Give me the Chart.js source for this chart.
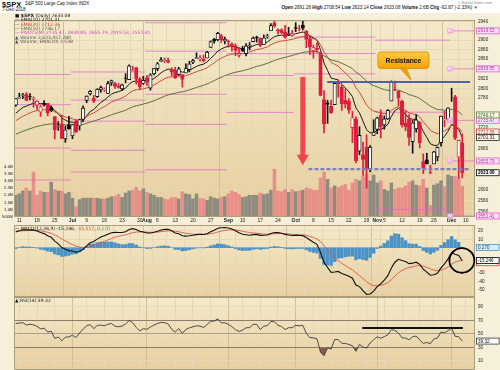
<!DOCTYPE html>
<html>
<head>
<meta charset="utf-8">
<script src="https://cdn.jsdelivr.net/npm/chart.js"></script>
<style>
  body { margin: 0; width: 500px; height: 370px; overflow: hidden; position: relative; background: #fff; font-family: "Liberation Sans", Arial, sans-serif; }
  #panel { position: absolute; left: 0; top: 13px; width: 500px; height: 357px; background: #f6efda; }
  canvas { position: absolute; left: 0; }
  .txt { position: absolute; white-space: nowrap; color: #111; line-height: 1; }
  .leg { position: absolute; left: 15px; font-size: 4.5px; line-height: 4.35px; white-space: nowrap; font-family: "DejaVu Sans", sans-serif; color: #111; }
  .leg b { font-weight: bold; }
</style>
</head>
<body>
<div id="panel"></div>
<div class="txt" style="left:2px;top:0.5px;font-size:7.5px;font-weight:bold;">$SPX</div>
<div class="txt" style="left:25px;top:2px;font-size:4.5px;">S&amp;P 500 Large Cap Index INDX</div>
<div class="txt" style="left:2px;top:8px;font-size:4.5px;">7-Dec-2018</div>
<div class="txt" style="right:8px;top:0.5px;font-size:4px;color:#888;">© StockCharts.com</div>
<div class="txt" style="right:22px;top:6px;font-size:4.6px;"><b>Open</b> 2691.26 <b>High</b> 2708.54 <b>Low</b> 2623.14 <b>Close</b> 2633.08 <b>Volume</b> 2.6B <b>Chg</b> -62.87 (-2.33%) <span style="color:#d22">▼</span></div>

<canvas id="main" width="500" height="212" style="top:13px"></canvas>
<canvas id="macd" width="500" height="72" style="top:225px"></canvas>
<canvas id="rsi" width="500" height="73" style="top:297px"></canvas>

<div class="leg" id="legMain" style="top:14px"></div>
<div class="leg" id="legMacd" style="top:226.5px"></div>
<div class="leg" id="legRsi" style="top:299px"></div>

<script>
// daily data, 8-Jun-2018 .. 7-Dec-2018
const priorClose = 2770.37;
const open = [2765.84,2780.18,2785.60,2787.94,2783.21,2777.78,2765.79,2752.01,2769.73,2769.28,2760.79,2742.94,2722.12,2728.45,2698.69,2727.13,
  2704.95,2733.27,2724.19,2737.68,2775.62,2788.56,2779.82,2783.14,2796.93,2797.36,2789.34,2811.35,2809.37,2804.55,2799.17,2820.68,2817.73,2835.49,2842.35,2819.00,2809.73,
  2821.17,2800.48,2829.62,2840.29,2855.92,2856.79,2857.19,2838.90,2835.46,2827.88,2827.95,2831.44,2838.32,2853.93,2861.51,2860.99,2860.29,2862.35,2884.69,2901.45,2900.62,2908.94,2898.37,
  2896.96,2891.59,2888.64,2868.26,2881.39,2871.57,2888.29,2896.85,2906.38,2903.83,2890.74,2906.60,2919.73,2936.76,2921.83,2921.75,2916.98,2911.65,2910.03,
  2926.29,2923.80,2931.69,2919.35,2902.54,2877.53,2882.51,2873.90,2776.87,2770.54,2763.83,2767.05,2811.67,2802.00,2775.66,2773.94,2721.03,2737.87,2674.88,2667.86,2682.65,2640.68,2705.60,
  2717.58,2745.45,2726.37,2738.40,2774.13,2806.38,2794.10,2773.93,2730.05,2737.90,2693.52,2718.54,2730.74,2654.60,2657.74,2633.36,2649.97,2663.75,2691.45,2736.97,2737.76,
  2790.50,2782.43,2663.51,2691.26];
const high = [2779.39,2790.21,2789.80,2791.47,2789.06,2782.81,2774.99,2765.05,2774.86,2769.28,2764.17,2742.94,2732.91,2746.09,2724.34,2743.26,
  2727.26,2736.58,2737.83,2764.41,2784.65,2795.58,2785.91,2799.22,2804.53,2801.19,2814.19,2816.76,2812.05,2809.70,2808.61,2829.99,2848.03,2845.57,2843.17,2821.74,2824.46,
  2825.83,2829.91,2840.38,2853.29,2863.43,2862.44,2862.48,2842.20,2843.40,2843.11,2827.95,2850.49,2855.63,2859.76,2873.23,2867.54,2868.78,2876.16,2898.25,2903.77,2916.50,2912.46,2906.32,
  2900.18,2894.21,2892.05,2883.81,2886.93,2892.52,2894.65,2906.76,2908.30,2904.65,2911.17,2912.36,2934.80,2940.91,2923.79,2923.95,2931.15,2927.22,2920.53,
  2937.06,2931.42,2939.86,2919.78,2909.64,2889.45,2894.83,2874.02,2795.14,2775.77,2775.99,2813.46,2816.94,2806.04,2797.77,2778.94,2753.59,2742.59,2722.70,2692.38,2706.85,2685.43,2736.69,
  2741.67,2756.55,2744.27,2756.82,2815.15,2814.75,2794.10,2775.99,2754.60,2746.80,2735.38,2746.75,2733.16,2669.44,2670.73,2647.55,2674.35,2682.53,2744.00,2753.75,2760.88,
  2800.18,2785.93,2696.15,2708.54];
const low = [2763.59,2780.17,2778.78,2774.65,2776.52,2761.73,2757.12,2743.19,2763.91,2744.39,2752.68,2698.67,2715.60,2699.38,2691.99,2718.03,
  2698.95,2711.16,2716.02,2733.52,2770.73,2786.24,2770.77,2781.53,2791.69,2793.39,2789.24,2805.89,2799.77,2800.01,2795.14,2811.12,2817.73,2835.26,2808.34,2798.11,2808.06,
  2805.85,2796.34,2827.37,2835.98,2855.92,2853.09,2851.98,2825.81,2819.88,2826.58,2802.49,2831.44,2833.73,2850.62,2861.32,2856.05,2854.03,2862.35,2884.69,2893.50,2898.40,2895.22,2891.73,
  2885.13,2876.92,2867.29,2864.12,2875.94,2866.78,2879.20,2896.39,2895.77,2886.16,2890.43,2903.82,2919.73,2927.11,2912.63,2913.70,2903.28,2909.27,2907.50,
  2917.91,2919.37,2921.36,2883.92,2869.29,2862.08,2874.27,2784.86,2710.51,2729.44,2749.03,2766.91,2781.81,2755.18,2760.27,2749.22,2691.43,2651.89,2667.84,2628.16,2603.54,2635.34,2705.60,
  2708.85,2700.44,2717.94,2737.08,2774.13,2794.99,2764.24,2722.00,2714.98,2685.75,2670.75,2712.16,2681.09,2631.52,2649.82,2631.09,2649.97,2655.89,2684.38,2722.94,2732.76,
  2773.38,2697.18,2621.53,2623.14];
const close = [2779.03,2782.00,2786.85,2775.63,2782.49,2779.66,2773.75,2762.59,2767.32,2749.76,2754.88,2717.07,2723.06,2699.63,2716.31,2718.37,
  2726.71,2713.22,2736.61,2759.82,2784.17,2793.84,2774.02,2798.29,2801.31,2798.43,2809.55,2815.62,2804.49,2801.83,2806.98,2820.40,2846.07,2837.44,2818.82,2802.60,2816.29,
  2813.36,2827.22,2840.35,2850.40,2858.45,2857.70,2853.58,2833.28,2821.93,2839.96,2818.37,2840.69,2850.13,2857.05,2862.96,2861.82,2856.98,2874.69,2896.74,2897.52,2914.04,2901.13,2901.52,
  2896.72,2888.60,2878.05,2871.68,2877.13,2887.89,2888.92,2904.18,2904.98,2888.80,2904.31,2907.95,2930.75,2929.67,2919.37,2915.56,2905.97,2914.00,2913.98,
  2924.59,2923.43,2925.51,2901.61,2885.57,2884.43,2880.34,2785.68,2728.37,2767.13,2750.79,2809.92,2809.21,2768.78,2767.78,2755.88,2740.69,2656.10,2705.57,2658.69,2641.25,2682.63,2711.74,
  2740.37,2723.06,2738.31,2755.45,2813.89,2806.83,2781.01,2726.22,2722.18,2701.58,2730.20,2736.27,2690.73,2641.89,2649.93,2632.56,2673.45,2682.17,2743.79,2737.80,2760.17,
  2790.37,2700.06,2695.95,2633.08];
// volume in billions
const volume = [2.0,2.1,2.3,2.5,2.3,3.6,2.0,2.3,2.2,2.2,2.9,2.4,2.3,2.3,2.1,2.2,
  1.8,1.2,1.7,1.8,1.8,1.8,1.8,1.8,1.75,1.75,1.8,1.9,1.95,2.05,1.85,2.15,2.3,2.35,2.55,2.3,2.45,
  2.2,2.1,2.0,1.85,1.85,1.75,1.7,1.85,1.85,1.75,2.25,2.1,2.05,1.75,2.1,1.8,1.75,1.65,1.9,1.8,1.75,1.85,1.9,
  2.1,2.3,2.2,2.05,1.85,1.9,2.0,2.0,2.0,2.15,2.05,2.1,2.35,3.8,2.3,2.25,2.4,2.2,2.4,
  2.25,2.3,2.35,2.5,2.45,2.35,2.35,3.2,3.6,3.1,2.5,2.65,2.55,2.65,2.75,2.35,2.85,3.1,3.0,3.3,3.45,3.0,3.4,
  2.85,3.0,2.4,2.3,2.85,2.4,2.5,2.5,2.65,2.9,3.0,2.7,2.65,3.1,2.5,1.3,2.7,2.8,3.0,2.6,3.4,
  3.3,3.3,3.1,2.62];
const ema10 = [2749.6,2755.5,2761.2,2763.8,2767.2,2769.5,2770.2,2768.9,2768.6,2765.2,2763.3,2754.9,2749.1,2740.1,2735.8,2732.6,
  2731.5,2728.2,2729.7,2735.2,2744.1,2753.2,2756.9,2764.5,2771.2,2776.1,2782.2,2788.3,2791.2,2793.2,2795.7,2800.2,2808.5,2813.8,2814.7,2812.5,2813.2,
  2813.2,2815.8,2820.2,2825.7,2831.7,2836.4,2839.5,2838.4,2835.4,2836.2,2833.0,2834.4,2837.2,2840.8,2844.9,2847.9,2849.6,2854.2,2861.9,2868.4,2876.7,2881.1,2884.8,
  2887.0,2887.3,2885.6,2883.1,2882.0,2883.1,2884.1,2887.8,2890.9,2890.5,2893.0,2895.8,2902.1,2907.1,2909.4,2910.5,2909.7,2910.5,2911.1,
  2913.5,2915.3,2917.2,2914.4,2909.1,2904.6,2900.2,2879.4,2851.9,2836.5,2820.9,2818.9,2817.2,2808.4,2801.0,2792.8,2783.3,2760.2,2750.3,2733.6,2716.8,2710.6,2710.8,
  2716.2,2717.4,2721.2,2727.5,2743.2,2754.7,2759.5,2753.5,2747.8,2739.4,2737.7,2737.5,2729.0,2713.1,2701.6,2689.1,2686.2,2685.5,2696.1,2703.7,2714.0,
  2727.8,2722.8,2717.9,2701.31];
const ema20 = [2734.7,2739.2,2743.7,2746.8,2750.2,2753.0,2755.0,2755.7,2756.8,2756.1,2756.0,2752.3,2749.5,2744.8,2742.1,2739.8,
  2738.6,2736.1,2736.2,2738.4,2742.8,2747.6,2750.2,2754.7,2759.2,2762.9,2767.4,2772.0,2775.1,2777.6,2780.4,2784.2,2790.1,2794.6,2796.9,2797.5,2799.2,
  2800.6,2803.1,2806.7,2810.8,2815.4,2819.4,2822.6,2823.7,2823.5,2825.1,2824.4,2826.0,2828.3,2831.0,2834.1,2836.7,2838.6,2842.1,2847.3,2852.1,2858.0,2862.1,2865.8,
  2868.8,2870.7,2871.4,2871.4,2871.9,2873.5,2874.9,2877.7,2880.3,2881.1,2883.3,2885.7,2890.0,2893.7,2896.2,2898.0,2898.8,2900.2,2901.6,
  2903.7,2905.6,2907.5,2907.0,2904.9,2903.0,2900.8,2889.9,2874.5,2864.3,2853.4,2849.3,2845.5,2838.2,2831.5,2824.3,2816.3,2801.1,2792.0,2779.3,2766.1,2758.2,2753.8,
  2752.5,2749.7,2748.6,2749.3,2755.4,2760.3,2762.3,2758.9,2755.4,2750.2,2748.3,2747.2,2741.8,2732.3,2724.5,2715.7,2711.7,2708.9,2712.2,2714.6,2719.0,
  2725.8,2723.3,2720.7,2712.36];
const ema50 = [2707.9,2710.8,2713.8,2716.2,2718.8,2721.2,2723.3,2724.8,2726.5,2727.4,2728.5,2728.0,2727.8,2726.7,2726.3,2726.0,
  2726.0,2725.5,2726.0,2727.3,2729.5,2732.0,2733.7,2736.2,2738.8,2741.1,2743.8,2746.6,2748.9,2751.0,2753.2,2755.8,2759.3,2762.4,2764.6,2766.1,2768.1,
  2769.9,2772.1,2774.8,2777.8,2780.9,2783.9,2786.7,2788.5,2789.8,2791.8,2792.8,2794.7,2796.9,2799.2,2801.7,2804.1,2806.1,2808.8,2812.3,2815.6,2819.5,2822.7,2825.8,
  2828.6,2830.9,2832.8,2834.3,2836.0,2838.0,2840.0,2842.5,2845.0,2846.7,2849.0,2851.3,2854.4,2857.3,2859.8,2862.0,2863.7,2865.7,2867.6,
  2869.8,2871.9,2874.0,2875.1,2875.5,2875.8,2876.0,2872.5,2866.8,2862.9,2858.5,2856.6,2854.7,2851.4,2848.1,2844.5,2840.4,2833.2,2828.2,2821.5,2814.5,2809.3,2805.5,
  2802.9,2799.8,2797.4,2795.7,2796.4,2796.8,2796.2,2793.5,2790.7,2787.2,2785.0,2783.0,2779.4,2774.0,2769.2,2763.8,2760.3,2757.2,2756.7,2755.9,2756.1,
  2757.4,2755.2,2752.9,2746.17];
const macd = [18.70,20.05,21.27,21.08,21.25,20.91,19.93,18.05,16.74,14.12,12.32,7.76,4.57,0.15,-1.98,-3.47,
  -3.93,-5.32,-4.48,-1.93,2.04,5.90,7.27,10.20,12.62,14.14,16.06,17.87,18.19,18.03,18.11,19.03,21.58,22.65,21.74,19.49,18.60,
  17.45,17.46,18.31,19.57,20.98,21.78,21.84,20.02,17.45,16.68,14.16,13.81,14.13,14.78,15.58,15.95,15.67,16.68,19.04,20.74,23.15,23.74,23.97,
  23.49,22.20,20.09,17.71,16.07,15.46,14.89,15.49,15.84,14.65,14.79,15.02,16.85,18.00,17.87,17.27,15.84,15.17,14.48,
  14.61,14.46,14.34,12.18,9.07,6.44,3.98,-5.55,-17.52,-23.60,-29.41,-28.91,-28.24,-30.62,-32.21,-34.05,-36.31,-44.42,-46.31,-51.01,-55.50,-55.09,-51.81,
  -46.37,-42.96,-38.58,-33.34,-24.20,-17.32,-13.80,-15.25,-16.54,-19.00,-18.43,-17.29,-19.83,-25.49,-29.00,-32.80,-32.15,-30.57,-24.07,-19.18,-13.35,
  -6.22,-7.77,-9.21,-15.246];
const signal = [19.74,19.80,20.09,20.29,20.48,20.57,20.44,19.96,19.32,18.28,17.09,15.22,13.09,10.50,8.00,5.71,
  3.78,1.96,0.67,0.15,0.53,1.60,2.70,4.20,5.88,7.53,9.24,10.97,12.41,13.53,14.45,15.37,16.61,17.82,18.60,18.78,18.74,
  18.48,18.28,18.29,18.55,19.04,19.59,20.04,20.04,19.52,18.95,17.99,17.15,16.55,16.20,16.08,16.05,15.97,16.11,16.70,17.51,18.64,19.66,20.52,
  21.11,21.33,21.08,20.41,19.54,18.72,17.95,17.46,17.14,16.64,16.27,16.02,16.19,16.55,16.81,16.90,16.69,16.39,16.01,
  15.73,15.48,15.25,14.64,13.53,12.11,10.48,7.27,2.31,-2.87,-8.18,-12.33,-15.51,-18.53,-21.27,-23.83,-26.33,-29.95,-33.22,-36.78,-40.52,-43.43,-45.11,
  -45.36,-44.88,-43.62,-41.56,-38.09,-33.94,-29.91,-26.98,-24.89,-23.71,-22.65,-21.58,-21.23,-22.08,-23.46,-25.33,-26.69,-27.47,-26.79,-25.27,-22.89,
  -19.56,-17.20,-15.60,-15.517];
const hist = [-1.04,0.25,1.18,0.79,0.77,0.34,-0.51,-1.91,-2.58,-4.16,-4.77,-7.46,-8.52,-10.35,-9.98,-9.18,
  -7.71,-7.28,-5.15,-2.08,1.51,4.30,4.57,6.00,6.74,6.61,6.82,6.90,5.78,4.50,3.66,3.66,4.97,4.83,3.14,0.71,-0.14,
  -1.03,-0.82,0.02,1.02,1.94,2.19,1.80,-0.02,-2.07,-2.27,-3.83,-3.34,-2.42,-1.42,-0.50,-0.10,-0.30,0.57,2.34,3.23,4.51,4.08,3.45,
  2.38,0.87,-0.99,-2.70,-3.47,-3.26,-3.06,-1.97,-1.30,-1.99,-1.48,-1.00,0.66,1.45,1.06,0.37,-0.85,-1.22,-1.53,
  -1.12,-1.02,-0.91,-2.46,-4.46,-5.67,-6.50,-12.82,-19.83,-20.73,-21.23,-16.58,-12.73,-12.09,-10.94,-10.22,-9.98,-14.47,-13.09,-14.23,-14.98,-11.66,-6.70,
  -1.01,1.92,5.04,8.22,13.89,16.62,16.11,11.73,8.35,4.71,4.22,4.29,1.40,-3.41,-5.54,-7.47,-5.46,-3.10,2.72,6.09,9.54,
  13.34,9.43,6.39,0.270];
const rsi = [65.3,65.8,66.5,62.9,64.2,63.2,61.1,57.3,58.4,52.5,54.0,43.4,45.2,39.8,44.9,45.5,
  48.0,44.5,51.2,56.9,61.8,63.6,57.6,62.3,62.9,61.9,64.1,65.3,61.3,60.4,61.6,64.7,69.7,66.3,59.5,54.3,57.6,
  56.7,60.0,63.0,65.2,66.8,66.5,64.7,56.6,52.6,57.7,50.7,56.6,58.8,60.4,61.8,61.4,59.4,63.9,68.6,68.8,71.9,66.2,66.3,
  64.1,60.6,56.2,53.6,55.4,58.9,59.2,63.9,64.1,56.3,61.2,62.3,68.2,67.7,62.6,60.8,56.3,59.0,59.0,
  62.5,61.9,62.6,50.6,44.5,44.1,42.6,23.0,17.7,29.5,27.7,41.6,41.5,36.0,35.9,34.4,32.5,24.3,34.6,30.4,29.0,36.5,41.3,
  45.6,43.5,45.9,48.5,56.2,55.1,51.2,44.2,43.7,41.3,45.8,46.7,41.0,35.9,37.3,35.5,42.5,43.9,52.6,51.8,54.7,
  58.3,46.3,45.8,39.32];

// monthly pivots (Jun..Dec), first/last day index of each month
const monthFirst = [0, 16, 37, 60, 79, 102, 123];
const monthLast = [15, 36, 59, 78, 101, 122, 129];
const pivR2 = [2828.33, 2833.42, 2936.84, 2991.61, 2983.13, 3088.03, 2919.53];
const pivR1 = [2766.80, 2775.89, 2876.57, 2946.56, 2948.56, 2899.88, 2839.85];
const pivP  = [2680.71, 2733.94, 2787.76, 2871.45, 2906.34, 2751.71, 2735.47];
const pivS1 = [2619.18, 2676.41, 2727.49, 2826.40, 2871.77, 2563.56, 2655.79];
const pivS2 = [2533.09, 2634.46, 2638.68, 2751.29, 2829.55, 2415.39, 2551.41];

// tick labels
const tickIdx = [1,6,11,16,20,25,30,35,37,40,45,50,55,60,64,69,74,79,84,89,94,99,102,104,109,114,118,123,127];
const tickText = ['11','18','25','Jul','9','16','23','30','Aug','6','13','20','27','Sep','10','17','24','Oct','8','15','22','29','Nov','5','12','19','26','Dec','10'];
const priceTicks = [2560, 2580, 2600, 2680, 2720, 2780, 2800, 2820, 2860, 2880, 2900, 2940];
const volTicks = [0.5, 1, 1.5, 2, 2.5, 3, 3.5, 4];
const macdTicks = [20, 10, -20, -30, -40, -50];
const rsiTicks = [90, 70, 50, 30, 10];

const last = a => a[a.length - 1];
const pts = arr => arr.map((v, i) => ({ x: i, y: v }));
const monthTicks = monthFirst.slice(1);
const upDay = i => close[i] >= (i === 0 ? priorClose : close[i - 1]);
const candleColor = i => (upDay(i) ? '#111111' : '#dd1f3c');
const PINK = '#e35fd0';

// legends
document.getElementById('legMain').innerHTML =
  `<div><b>■ $SPX</b> (Daily) ${last(close).toFixed(2)}</div>` +
  `<div>— EMA(10) ${last(ema10).toFixed(2)}</div>` +
  `<div style="color:#cc3030">— EMA(20) ${last(ema20).toFixed(2)}</div>` +
  `<div style="color:#4f6d33">— EMA(50) ${last(ema50).toFixed(2)}</div>` +
  `<div style="color:#d040c0">— PIVOTS(M) ${last(pivP).toFixed(2)}, ${last(pivR1).toFixed(2)}, ${last(pivS1).toFixed(2)}, ${last(pivR2).toFixed(2)}, ${last(pivS2).toFixed(2)}</div>` +
  `<div style="color:#555">▲ Volume 2,623,457,280</div>` +
  `<div style="color:#555">▲ Volume, EMA(20) 2.53B</div>`;
document.getElementById('legMacd').innerHTML =
  `— MACD(12,26,9) ${last(macd).toFixed(3)}, <span style="color:#d33">${last(signal).toFixed(3)}</span>, <span style="color:#3a8a5a">${last(hist).toFixed(3)}</span>`;
document.getElementById('legRsi').innerHTML = `▲ RSI(14) ${last(rsi).toFixed(2)}`;

// shared panel background and frame
const panelBg = {
  id: 'panelBg',
  beforeDraw(chart) {
    const { ctx, chartArea: a } = chart;
    const g = ctx.createLinearGradient(0, a.top, 0, a.bottom);
    g.addColorStop(0, '#f4eacb');
    g.addColorStop(1, '#e7cf9f');
    ctx.save();
    ctx.fillStyle = g;
    ctx.fillRect(a.left, a.top, a.right - a.left, a.bottom - a.top);
    ctx.restore();
  },
  afterDatasetsDraw(chart) {
    const { ctx, chartArea: a } = chart;
    ctx.save();
    ctx.strokeStyle = '#ad9d7c';
    ctx.lineWidth = 1;
    ctx.strokeRect(a.left + 0.5, a.top + 0.5, a.right - a.left - 1, a.bottom - a.top - 1);
    ctx.restore();
  }
};

function valueBox(ctx, a, py, text, edge, ink, fill, bold) {
  const bx = a.right + 1;
  ctx.fillStyle = fill;
  ctx.fillRect(bx, py - 3.4, 23.5, 6.8);
  ctx.strokeStyle = edge;
  ctx.lineWidth = 0.8;
  ctx.strokeRect(bx + 0.4, py - 3.0, 22.7, 6.0);
  ctx.fillStyle = ink;
  ctx.font = (bold ? 'bold ' : '') + '4.6px "Liberation Sans"';
  ctx.textAlign = 'left';
  ctx.textBaseline = 'middle';
  ctx.fillText(text, bx + 2, py + 0.3);
}

function xScale(showLabels) {
  return {
    type: 'linear', min: -0.5, max: 129.6, offset: false,
    afterBuildTicks: s => { s.ticks = tickIdx.map(v => ({ value: v })); },
    afterFit: s => { s.height = showLabels ? 8 : 0; s.paddingLeft = 0; s.paddingRight = 0; },
    grid: { color: c => (c.tick && monthTicks.includes(c.tick.value) ? '#d2bf98' : '#e6d8b6'), drawTicks: false },
    border: { display: false },
    ticks: {
      display: showLabels, autoSkip: false, maxRotation: 0, padding: 1, color: '#222',
      font: c => ({ family: 'Liberation Sans', size: 5, weight: c.tick && monthTicks.includes(c.tick.value) ? 'bold' : 'normal' }),
      callback: v => tickText[tickIdx.indexOf(v)]
    }
  };
}

function rightAxis(min, max, ticks, gridColor) {
  return {
    position: 'right', min, max,
    afterBuildTicks: s => { s.ticks = ticks.map(v => ({ value: v })); },
    afterFit: s => { s.width = 25; s.paddingTop = 0; s.paddingBottom = 0; },
    border: { display: false },
    grid: { color: gridColor || '#e6d9b8', drawTicks: false },
    ticks: { color: '#222', padding: 3, font: { family: 'Liberation Sans', size: 4.6 }, callback: v => String(v) }
  };
}

const baseOptions = {
  responsive: false, animation: false, events: [],
  plugins: { legend: { display: false }, tooltip: { enabled: false } }
};

// pivot segments, one line per level
function pivotLine(levels) {
  const out = [];
  levels.forEach((v, m) => {
    out.push({ x: monthFirst[m] - 0.5, y: v }, { x: monthLast[m] + 0.5, y: v }, { x: monthLast[m] + 0.5, y: null });
  });
  return out;
}
const pivotSets = [pivR2, pivR1, pivP, pivS1, pivS2].map(lv => ({
  type: 'line', yAxisID: 'y', data: pivotLine(lv), borderColor: 'rgba(226,96,210,0.7)', borderWidth: 1,
  pointRadius: 0, spanGaps: false, order: 15
}));

const mainMarks = {
  id: 'mainMarks',
  afterDraw(chart) {
    const { ctx, chartArea: a, scales: { x, y } } = chart;
    ctx.save();

    // Resistance callout
    const l = x.getPixelForValue(102.2), r = x.getPixelForValue(116.6);
    const t = y.getPixelForValue(2875), b = y.getPixelForValue(2840.5);
    const b1 = x.getPixelForValue(108.4), b2 = x.getPixelForValue(110.2);
    const tx = x.getPixelForValue(111.5), ty = y.getPixelForValue(2817);
    const g = ctx.createLinearGradient(0, t, 0, b);
    g.addColorStop(0, '#ffcb45');
    g.addColorStop(1, '#f3a200');
    ctx.beginPath();
    ctx.roundRect(l, t, r - l, b - t, 3);
    ctx.moveTo(b1, b - 0.5);
    ctx.lineTo(tx, ty);
    ctx.lineTo(b2, b - 0.5);
    ctx.closePath();
    ctx.fillStyle = g;
    ctx.fill();
    ctx.strokeStyle = '#d88d00';
    ctx.lineWidth = 0.8;
    ctx.stroke();
    ctx.fillStyle = '#111';
    ctx.font = 'bold 6.8px "Liberation Sans"';
    ctx.textAlign = 'center';
    ctx.textBaseline = 'middle';
    ctx.fillText('Resistance', (l + r) / 2, (t + b) / 2 + 0.5);

    // December pivot tags
    const tags = ['R2', 'R1', 'P', 'S1', 'S2'];
    [pivR2, pivR1, pivP, pivS1, pivS2].forEach((lv, k) => {
      const py = y.getPixelForValue(last(lv));
      if (py < a.top || py > a.bottom) return;
      const px = x.getPixelForValue(122.6);
      ctx.beginPath();
      ctx.roundRect(px - 3, py - 2.6, 6, 5.2, 1);
      ctx.fillStyle = '#f3a6e8';
      ctx.fill();
      ctx.fillStyle = '#fff';
      ctx.font = 'bold 3px "Liberation Sans"';
      ctx.fillText(tags[k], px, py + 0.2);
    });

    // right axis value boxes
    const pinkBox = v => valueBox(ctx, a, y.getPixelForValue(v), v.toFixed(2), PINK, '#b02ea0', '#fbe4f7');
    pinkBox(last(pivR2));
    pinkBox(last(pivR1));
    pinkBox(last(pivP));
    pinkBox(last(pivS1));
    pinkBox(last(pivS2));
    valueBox(ctx, a, y.getPixelForValue(last(ema50)), last(ema50).toFixed(2), '#5b7a3b', '#3d5a22', '#fbf7ea');
    valueBox(ctx, a, y.getPixelForValue(last(ema20)), last(ema20).toFixed(2), '#d03b3b', '#c02a2a', '#fbf7ea');
    valueBox(ctx, a, y.getPixelForValue(last(ema10)), last(ema10).toFixed(2), '#222', '#111', '#fbf7ea');
    valueBox(ctx, a, y.getPixelForValue(last(close)), last(close).toFixed(2), '#000', '#000', '#ffffff', true);
    ctx.restore();
  }
};

new Chart(document.getElementById('main'), {
  type: 'bar',
  data: {
    datasets: [
      {
        label: 'Volume', yAxisID: 'yv', data: pts(volume), barThickness: 2.9, grouped: false, order: 20,
        backgroundColor: c => (upDay(c.dataIndex) ? '#8e8c7e' : '#e89088')
      },
      ...pivotSets,
      { type: 'line', yAxisID: 'y', data: pts(ema50), borderColor: '#5b7040', borderWidth: 1, pointRadius: 0, order: 6 },
      { type: 'line', yAxisID: 'y', data: pts(ema20), borderColor: '#cf4a3e', borderWidth: 1, pointRadius: 0, order: 6 },
      { type: 'line', yAxisID: 'y', data: pts(ema10), borderColor: '#1a1a1a', borderWidth: 1, pointRadius: 0, order: 6 },
      {
        label: 'wick', yAxisID: 'y', data: close.map((c, i) => ({ x: i, y: [low[i], high[i]] })),
        barThickness: 1, grouped: false, order: 4, backgroundColor: c => candleColor(c.dataIndex)
      },
      {
        label: 'body', yAxisID: 'y', data: close.map((c, i) => ({ x: i, y: [open[i], close[i]] })),
        barThickness: 3.4, grouped: false, order: 3, borderWidth: 0.9, borderSkipped: false,
        borderColor: c => candleColor(c.dataIndex),
        backgroundColor: c => (close[c.dataIndex] < open[c.dataIndex] ? candleColor(c.dataIndex) : '#fffdf6')
      },
      // support / resistance marks
      {
        type: 'line', yAxisID: 'y', data: [{ x: 82.6, y: 2640 }, { x: 128.2, y: 2640 }],
        borderColor: '#7f7fc0', borderWidth: 2.2, borderDash: [4, 2], pointRadius: 0, order: 1
      },
      {
        type: 'line', yAxisID: 'y', data: [{ x: 87.9, y: 2813 }, { x: 128.2, y: 2813 }],
        borderColor: '#4e60b4', borderWidth: 2, pointRadius: 0, order: 1
      },
      {
        type: 'line', yAxisID: 'y', data: [{ x: 81.0, y: 2823 }, { x: 81.0, y: 2661 }],
        borderColor: '#f2464c', borderWidth: 5, borderCapStyle: 'butt',
        pointRadius: [0, 7], pointStyle: 'triangle', pointRotation: 180,
        pointBackgroundColor: '#f2464c', pointBorderWidth: 0, order: 0
      }
    ]
  },
  options: {
    ...baseOptions,
    layout: { padding: 0 },
    scales: {
      x: xScale(true),
      y: Object.assign(rightAxis(2549.6, 2942.7, priceTicks), { type: 'logarithmic' }),
      yv: {
        type: 'linear', position: 'left', min: 0.5, max: 14.1,
        afterBuildTicks: s => { s.ticks = volTicks.map(v => ({ value: v })); },
        afterFit: s => { s.width = 14; s.paddingTop = 0; s.paddingBottom = 0; },
        border: { display: false },
        grid: { drawOnChartArea: false, drawTicks: false },
        ticks: { color: '#222', padding: 1, font: { family: 'Liberation Sans', size: 4.4 }, callback: v => (v < 1 ? '500M' : v.toFixed(1) + 'B') }
      }
    }
  },
  plugins: [panelBg, mainMarks]
});

// MACD panel
const macdMarks = {
  id: 'macdMarks',
  afterDraw(chart) {
    const { ctx, chartArea: a, scales: { x, y } } = chart;
    ctx.save();
    ctx.beginPath();
    ctx.ellipse(x.getPixelForValue(125.9), y.getPixelForValue(-15.2), 12.5, 12.3, 0, 0, Math.PI * 2);
    ctx.strokeStyle = '#000';
    ctx.lineWidth = 1.8;
    ctx.stroke();
    valueBox(ctx, a, y.getPixelForValue(last(signal)) + 2, last(signal).toFixed(3), '#d33', '#c22', '#fdf2f0');
    valueBox(ctx, a, y.getPixelForValue(last(macd)), last(macd).toFixed(3), '#000', '#000', '#ffffff');
    valueBox(ctx, a, y.getPixelForValue(last(hist)), last(hist).toFixed(3), '#4b93c6', '#245', '#dcebf7');
    ctx.restore();
  }
};

new Chart(document.getElementById('macd'), {
  type: 'bar',
  data: {
    datasets: [
      { type: 'line', data: pts(macd), borderColor: '#111', borderWidth: 1.1, pointRadius: 0, order: 1 },
      { type: 'line', data: pts(signal), borderColor: '#e0524a', borderWidth: 0.9, pointRadius: 0, order: 2 },
      { data: pts(hist), backgroundColor: '#4a93c7', barThickness: 2.8, grouped: false, order: 3 }
    ]
  },
  options: {
    ...baseOptions,
    layout: { padding: { left: 14 } },
    scales: { x: xScale(false), y: rightAxis(-58.7, 27, macdTicks) }
  },
  plugins: [panelBg, macdMarks]
});

// RSI panel
const rsiMarks = {
  id: 'rsiMarks',
  afterDraw(chart) {
    const { ctx, chartArea: a, scales: { y } } = chart;
    ctx.save();
    valueBox(ctx, a, y.getPixelForValue(last(rsi)), last(rsi).toFixed(2), '#333', '#111', '#ffffff');
    ctx.restore();
  }
};

new Chart(document.getElementById('rsi'), {
  type: 'line',
  data: {
    datasets: [
      {
        data: pts(rsi), borderColor: '#3a3a3a', borderWidth: 0.9, pointRadius: 0, order: 2,
        fill: { target: { value: 30 }, above: 'rgba(0,0,0,0)', below: '#8b5b4a' }
      },
      {
        data: pts(rsi), borderWidth: 0, pointRadius: 0, order: 3,
        fill: { target: { value: 70 }, above: '#8b5b4a', below: 'rgba(0,0,0,0)' }
      },
      { data: [{ x: 97.8, y: 58.6 }, { x: 126.2, y: 58.6 }], borderColor: '#111', borderWidth: 2, pointRadius: 0, order: 1 }
    ]
  },
  options: {
    ...baseOptions,
    layout: { padding: { left: 14 } },
    scales: {
      x: xScale(false),
      y: rightAxis(-3.3, 104.3, rsiTicks, c => {
        const v = c.tick && c.tick.value;
        if (v === 70 || v === 30) return '#8f8675';
        if (v === 50) return '#a89e8b';
        return '#e6d9b8';
      })
    }
  },
  plugins: [panelBg, rsiMarks]
});
</script>
</body>
</html>
